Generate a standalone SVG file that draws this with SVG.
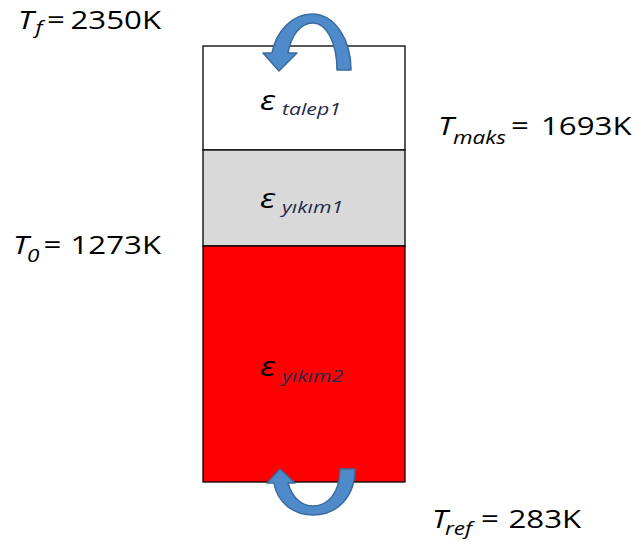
<svg xmlns="http://www.w3.org/2000/svg" width="635" height="549" viewBox="0 0 635 549">
  <style>
    .lbl { font-family: "Open Sans", "Liberation Sans", sans-serif; font-size: 25px; fill: #000; }
    .it { font-style: italic; }
    .sub { font-family: "Open Sans", "Liberation Sans", sans-serif; font-style: italic; font-size: 18px; fill: #000; }
    .eps { font-family: "Open Sans", "Liberation Sans", sans-serif; font-style: italic; font-size: 27px; fill: #000; }
    .esub { font-family: "Open Sans", "Liberation Sans", sans-serif; font-style: italic; font-size: 17px; fill: #1f2a4d; }
    .cell { stroke: #000; stroke-width: 1.3; }
    .arrow { fill: #4f8bca; stroke: #3a6c9d; stroke-width: 1.5; stroke-linejoin: round; }
  </style>

  <!-- column of three layers -->
  <g id="layer-talep1">
    <rect class="cell" x="203" y="46" width="202" height="104" fill="#ffffff"/>
    <text class="eps" transform="scale(1.25,1)" x="208" y="110">ε</text>
    <text class="esub" transform="scale(1.25,1)" x="225.6" y="115">talep1</text>
  </g>
  <g id="layer-yikim1">
    <rect class="cell" x="203" y="150" width="202" height="96" fill="#d9d9d9"/>
    <text class="eps" transform="scale(1.25,1)" x="208" y="208">ε</text>
    <text class="esub" transform="scale(1.25,1)" x="225.6" y="213">yıkım1</text>
  </g>
  <g id="layer-yikim2">
    <rect class="cell" x="203" y="246" width="202" height="236" fill="#ff0000"/>
    <text class="eps" transform="scale(1.25,1)" x="208" y="376">ε</text>
    <text class="esub" transform="scale(1.25,1)" x="225.6" y="382">yıkım2</text>
  </g>

  <!-- temperature labels -->
  <g id="label-tf">
    <text class="lbl it" transform="scale(1.25,1)" x="14.4" y="29">T</text>
    <text class="sub" transform="scale(1.25,1)" x="28.4" y="34">f</text>
    <text class="lbl" transform="scale(1.25,1)" x="37.6" y="29">=</text>
    <text class="lbl" transform="scale(1.25,1)" x="56.4" y="29">2350K</text>
  </g>
  <g id="label-tmaks">
    <text class="lbl it" transform="scale(1.25,1)" x="350.4" y="135">T</text>
    <text class="sub" transform="scale(1.25,1)" x="362.4" y="144">maks</text>
    <text class="lbl" transform="scale(1.25,1)" x="408.8" y="135">=</text>
    <text class="lbl" transform="scale(1.25,1)" x="432.8" y="135">1693K</text>
  </g>
  <g id="label-t0">
    <text class="lbl it" transform="scale(1.25,1)" x="10.4" y="254">T</text>
    <text class="sub" transform="scale(1.25,1)" x="21.6" y="262">0</text>
    <text class="lbl" transform="scale(1.25,1)" x="34.8" y="254">=</text>
    <text class="lbl" transform="scale(1.25,1)" x="56.4" y="254">1273K</text>
  </g>
  <g id="label-tref">
    <text class="lbl it" transform="scale(1.25,1)" x="345.6" y="528">T</text>
    <text class="sub" transform="scale(1.25,1)" x="356" y="535">ref</text>
    <text class="lbl" transform="scale(1.25,1)" x="384.8" y="528">=</text>
    <text class="lbl" transform="scale(1.25,1)" x="406.8" y="528">283K</text>
  </g>

  <!-- curved heat-flow arrows -->
  <g id="connectors">
    <path class="arrow" d="M351,70 C351,40 335,14 312,14 C292,14 276,32 272,53 L263,53 L279,71 L297,53 L288,53 C291,36 300,23 313,23 C326,23 337,42 337,70 Z"/>
    <path class="arrow" d="M355,469 C355,497 337,515 313,515 C293,515 277,502 274,483 L267,483 L280,469 L295,483 L288,483 C292,497 301,506 313,506 C327,506 340,494 340,469 Z"/>
  </g>
</svg>
